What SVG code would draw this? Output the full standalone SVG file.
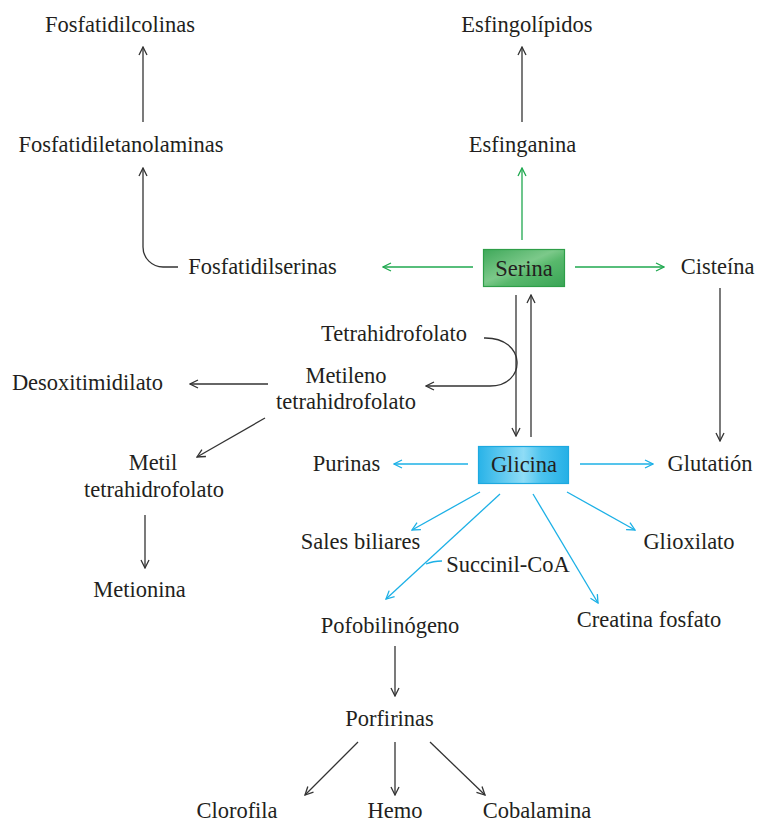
<svg xmlns="http://www.w3.org/2000/svg" width="757" height="824" viewBox="0 0 757 824">
<defs>
<style>
text{font-family:"Liberation Serif","Times New Roman",serif;font-size:22.5px;fill:#231f20;text-anchor:middle}
.k{stroke:#333;stroke-width:1.3;fill:none;marker-end:url(#ak)}
.g{stroke:#1fa84f;stroke-width:1.3;fill:none;marker-end:url(#ag)}
.b{stroke:#1cb0e6;stroke-width:1.3;fill:none;marker-end:url(#ab)}
.bn{stroke:#1cb0e6;stroke-width:1.3;fill:none}
</style>
<marker id="ak" viewBox="0 0 10 10" refX="9" refY="5" markerWidth="10" markerHeight="10" markerUnits="userSpaceOnUse" orient="auto"><path d="M1,1 L9,5 L1,9" fill="none" stroke="#333" stroke-width="1.3"/></marker>
<marker id="ag" viewBox="0 0 10 10" refX="9" refY="5" markerWidth="10" markerHeight="10" markerUnits="userSpaceOnUse" orient="auto"><path d="M1,1 L9,5 L1,9" fill="none" stroke="#1fa84f" stroke-width="1.3"/></marker>
<marker id="ab" viewBox="0 0 10 10" refX="9" refY="5" markerWidth="10" markerHeight="10" markerUnits="userSpaceOnUse" orient="auto"><path d="M1,1 L9,5 L1,9" fill="none" stroke="#1cb0e6" stroke-width="1.3"/></marker>
<linearGradient id="gg" x1="0" y1="0" x2="1" y2="1">
<stop offset="0" stop-color="#3fa85a"/><stop offset="0.45" stop-color="#7cc98a"/><stop offset="0.6" stop-color="#58b86c"/><stop offset="1" stop-color="#3aa556"/>
</linearGradient>
<linearGradient id="gb" x1="0" y1="0" x2="1" y2="0">
<stop offset="0" stop-color="#29b3e8"/><stop offset="0.5" stop-color="#8fdcf6"/><stop offset="0.7" stop-color="#4cc3ee"/><stop offset="1" stop-color="#25b0e6"/>
</linearGradient>
</defs>
<g id="connectors">
<path class="k" d="M143,122 V47"/>
<path class="k" d="M178,267 H163 A20,20 0 0 1 143,247 V168"/>
<path class="k" d="M522,122 V47"/>
<path class="g" d="M522,240 V168"/>
<path class="g" d="M473,267 H383"/>
<path class="g" d="M575,267 H664"/>
<path class="k" d="M720,288 V441"/>
<path class="k" d="M516,295 V436"/>
<path class="k" d="M531,437 V295"/>
<path class="k" d="M484,338 C527,337 527,386 490,386 H426"/>
<path class="k" d="M268,384 H190"/>
<path class="k" d="M265,418 L197,457"/>
<path class="k" d="M145,515 V568"/>
<path class="b" d="M468,464 H394"/>
<path class="b" d="M580,464 H653"/>
<path class="b" d="M480,492 L412,530"/>
<path class="b" d="M500,494 L386,599"/>
<path class="bn" d="M442,561 Q433,561 426,564"/>
<path class="b" d="M533,494 L598,603"/>
<path class="b" d="M567,492 L635,530"/>
<path class="k" d="M395,646 V696"/>
<path class="k" d="M358,742 L305,795"/>
<path class="k" d="M395,742 V795"/>
<path class="k" d="M430,742 L485,795"/>
</g>
<g id="fosfatidilcolinas"><text x="120" y="32">Fosfatidilcolinas</text></g>
<g id="fosfatidiletanolaminas"><text x="121" y="152">Fosfatidiletanolaminas</text></g>
<g id="fosfatidilserinas"><text x="262.5" y="274">Fosfatidilserinas</text></g>
<g id="esfingolipidos"><text x="527" y="32">Esfingolípidos</text></g>
<g id="esfinganina"><text x="522.5" y="152">Esfinganina</text></g>
<g id="serina"><rect x="483.5" y="249.5" width="81" height="37" fill="url(#gg)" stroke="#2e9e48" stroke-width="1.2"/><text x="524" y="276">Serina</text></g>
<g id="cisteina"><text x="717.5" y="274">Cisteína</text></g>
<g id="tetrahidrofolato"><text x="394" y="341">Tetrahidrofolato</text></g>
<g id="metileno"><text x="346" y="383">Metileno</text><text x="346" y="409">tetrahidrofolato</text></g>
<g id="desoxitimidilato"><text x="87.5" y="390">Desoxitimidilato</text></g>
<g id="metil"><text x="153" y="470">Metil</text><text x="154" y="497">tetrahidrofolato</text></g>
<g id="metionina"><text x="139.5" y="597">Metionina</text></g>
<g id="glicina"><rect x="478.5" y="446.5" width="90" height="37" fill="url(#gb)" stroke="#1ea9e0" stroke-width="1.2"/><text x="524" y="472">Glicina</text></g>
<g id="purinas"><text x="346.5" y="471">Purinas</text></g>
<g id="glutation"><text x="710" y="471">Glutatión</text></g>
<g id="sales"><text x="360.5" y="549">Sales biliares</text></g>
<g id="glioxilato"><text x="689" y="549">Glioxilato</text></g>
<g id="succinil"><text x="508" y="572">Succinil-CoA</text></g>
<g id="pofobilinogeno"><text x="390" y="633">Pofobilinógeno</text></g>
<g id="creatina"><text x="649" y="627">Creatina fosfato</text></g>
<g id="porfirinas"><text x="389.5" y="726">Porfirinas</text></g>
<g id="clorofila"><text x="237" y="818">Clorofila</text></g>
<g id="hemo"><text x="395" y="818">Hemo</text></g>
<g id="cobalamina"><text x="537" y="818">Cobalamina</text></g>
</svg>
